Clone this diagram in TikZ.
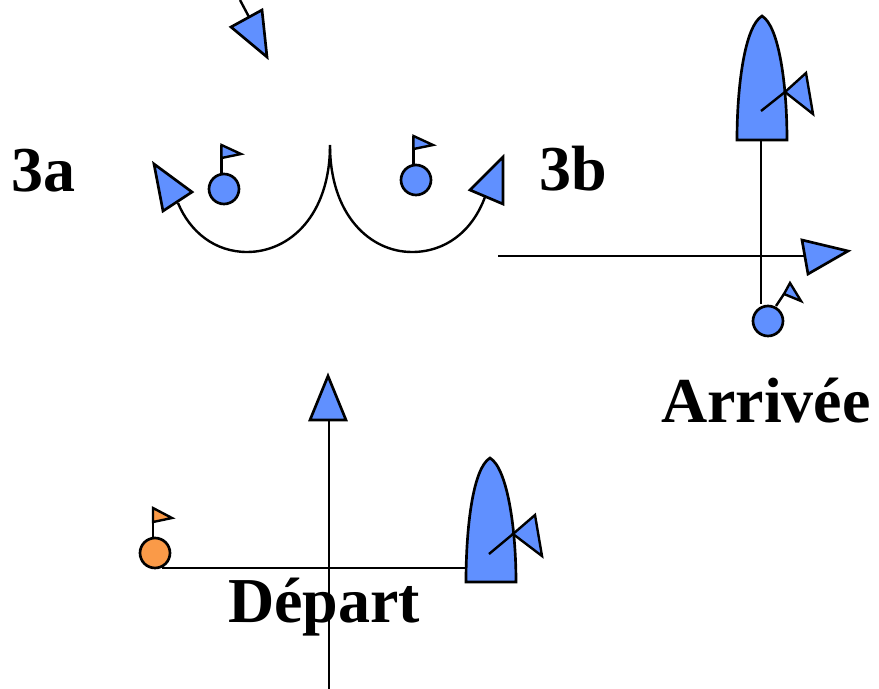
\documentclass[tikz,border=0pt]{standalone}
\usepackage{fontspec}
\setmainfont{Liberation Serif}
\usetikzlibrary{shapes.geometric}
\definecolor{sailblue}{RGB}{96,144,255}
\definecolor{startorange}{RGB}{250,154,72}
\tikzset{
  course/.style={black, line width=1.8pt},
  patch/.style={draw=black, line width=2pt, line join=miter, fill=sailblue},
  flagpatch/.style={patch, line width=1.8pt},
  buoy/.style={circle, draw=black, line width=2pt, fill=sailblue, inner sep=0pt, minimum size=22.5pt},
  title/.style={font=\bfseries\fontsize{48}{50}\selectfont, anchor=base west, inner sep=0pt, outer sep=0pt}
}
\begin{document}
\begin{tikzpicture}[x=0.75pt, y=-0.75pt]
      \useasboundingbox (0,0) rectangle (879,689);

      % Upper course: wind arrow
      \coordinate (windtop) at (240,0);
      \coordinate (windend) at (249,17);
      \draw[course] (windtop) -- (windend);
      \draw[patch] (231,27) -- (262,10) -- (267,57) -- cycle;

      % Buoys with their flags
      \foreach \x/\y/\name in {224/189/buoyL, 416/180/buoyR} {
        \node[buoy] (\name) at (\x,\y) {};
        \draw[course] (\x-2.5,\y-16) -- (\x-2.5,\y-44);
        \draw[flagpatch] (\x-2.5,\y-44) -- (\x+17,\y-35) -- (\x-2.5,\y-31) -- cycle;
      }

      % Turns 3a and 3b
      \coordinate (cusp) at (330,145);
      \draw[course] (cusp) .. controls (330,215) and (290,252) .. (247,252)
        .. controls (215,252) and (190,232) .. (178,203);
      \draw[course] (cusp) .. controls (330,215) and (370,252) .. (412,252)
        .. controls (445,252) and (472,232) .. (485,197);
      \draw[patch] (154,164) -- (192,192) -- (163,211) -- cycle;
      \draw[patch] (503,157) -- (470,190) -- (503,204) -- cycle;
      \node[title] (turnA) at (12,191) {3a};
      \node[title] (turnB) at (539,190) {3b};

      % Arrival
      \coordinate (finishboat) at (761,140);
      \coordinate (finishend) at (761,304);
      \coordinate (reachstart) at (498,256);
      \coordinate (reachend) at (805,256);
      \draw[course] (finishboat) -- (finishend);
      \draw[course] (reachstart) -- (reachend);
      \draw[patch] (802,240) -- (848,251) -- (808,274) -- cycle;
      \draw[patch] (737,140) .. controls (737,85) and (745,26) .. (762,16)
        .. controls (779,26) and (787,85) .. (787,140) -- cycle;
      \draw[flagpatch] (785,92) -- (806,73) -- (813,114) -- cycle;
      \draw[course] (761,111) -- (785,92);
      \node[buoy] (buoyF) at (768,321) {};
      \draw[course] (776,306) -- (784,294);
      \draw[flagpatch] (784,294) -- (790,283) -- (801,301) -- cycle;
      \node[title] (arrival) at (661,422) {Arrivée};

      % Start
      \coordinate (startbottom) at (329,689);
      \coordinate (starttop) at (329,420);
      \coordinate (linestart) at (162,568);
      \coordinate (lineend) at (466,568);
      \draw[course] (startbottom) -- (starttop);
      \draw[course] (linestart) -- (lineend);
      \draw[patch] (328,376) -- (346,420) -- (310,420) -- cycle;
      \draw[patch] (466,582) .. controls (466,527) and (473,468) .. (490,458)
        .. controls (507,468) and (516,527) .. (516,582) -- cycle;
      \draw[flagpatch] (513,534) -- (535,515) -- (542,556) -- cycle;
      \draw[course] (489,554) -- (513,534);
      \node[buoy, fill=startorange] (buoyS) at (155,553) {};
      \draw[course] (153,537) -- (153,508);
      \draw[flagpatch, fill=startorange] (153,508) -- (172,518) -- (153,522) -- cycle;
      \node[title] (start) at (228,622) {Départ};
    \end{tikzpicture}
\end{document}
